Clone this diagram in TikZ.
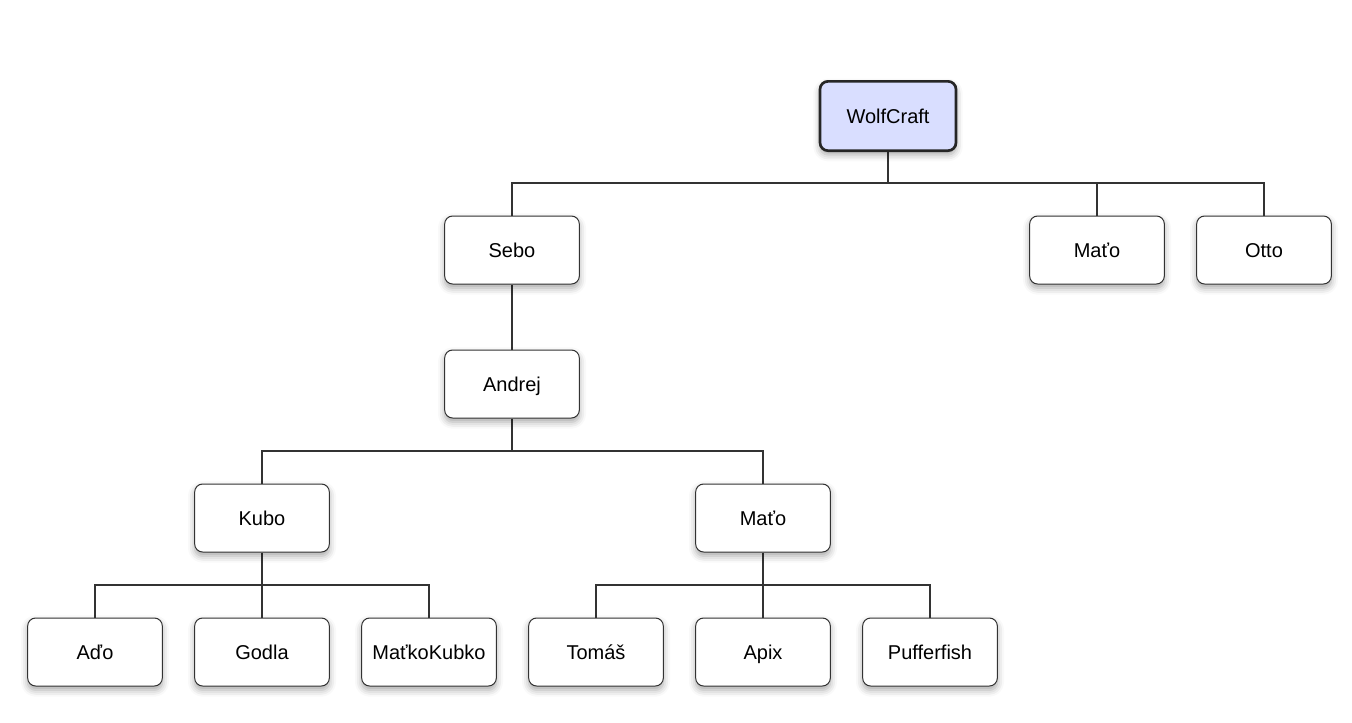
\documentclass[tikz,border=0pt]{standalone}
\usepackage{fontspec}
\setmainfont{Liberation Sans}
\usetikzlibrary{shadows.blur,backgrounds}
\definecolor{edgec}{HTML}{333333}
\definecolor{rootfill}{HTML}{D9DEFF}
\tikzset{
  person/.style={draw=edgec, line width=0.75pt, fill=white, rounded corners=6pt,
    minimum width=101pt, minimum height=51pt, inner sep=0pt,
    text height=12pt, text depth=1pt,
    font=\fontsize{15pt}{18pt}\selectfont,
    blur shadow={shadow xshift=0pt, shadow yshift=-3pt, shadow blur radius=5pt, shadow opacity=35}},
  rootbox/.style={person, fill=rootfill, line width=2pt, minimum width=102pt, minimum height=52pt, draw=black!85},
  link/.style={draw=edgec, line width=1.5pt}
}
\begin{document}
\begin{tikzpicture}[x=0.75pt,y=-0.75pt]
\useasboundingbox (0,0) rectangle (1352,722);
\node[rootbox] (root) at (888,116) {WolfCraft};
\node[person] (sebo) at (512,250) {Sebo};
\node[person] (mato1) at (1097,250) {Maťo};
\node[person] (otto) at (1264,250) {Otto};
\node[person] (andrej) at (512,384) {Andrej};
\node[person] (kubo) at (262,518) {Kubo};
\node[person] (mato2) at (763,518) {Maťo};
\node[person] (ado) at (95,652) {Aďo};
\node[person] (godla) at (262,652) {Godla};
\node[person] (matko) at (429,652) {MaťkoKubko};
\node[person] (tomas) at (596,652) {Tomáš};
\node[person] (apix) at (763,652) {Apix};
\node[person] (puff) at (930,652) {Pufferfish};
\coordinate (bus1) at (0,183);
\coordinate (bus2) at (0,451);
\coordinate (bus3) at (0,585);
\begin{scope}[on background layer]
\foreach \c in {sebo,mato1,otto} \draw[link] (root.south) -- (root.south |- bus1) -| (\c.north);
\draw[link] (sebo.south) -- (andrej.north);
\foreach \c in {kubo,mato2} \draw[link] (andrej.south) -- (andrej.south |- bus2) -| (\c.north);
\foreach \c in {ado,godla,matko} \draw[link] (kubo.south) -- (kubo.south |- bus3) -| (\c.north);
\foreach \c in {tomas,apix,puff} \draw[link] (mato2.south) -- (mato2.south |- bus3) -| (\c.north);
\end{scope}
\end{tikzpicture}
\end{document}
